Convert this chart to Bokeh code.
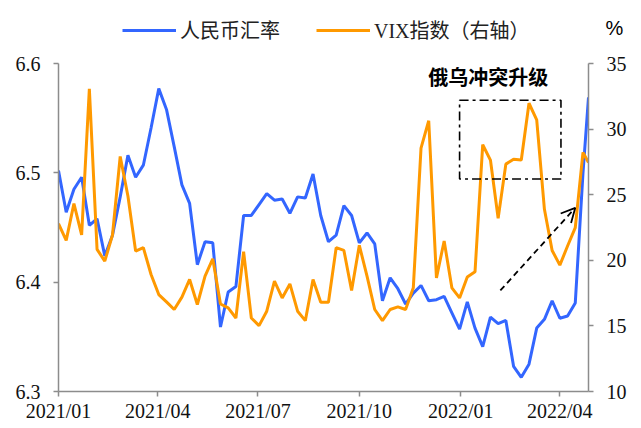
import pandas as pd
from bokeh.plotting import figure
from bokeh.layouts import column
from bokeh.models import (Range1d, LinearAxis, FixedTicker, Legend, LegendItem,
                          ColumnDataSource, BoxAnnotation, Arrow, OpenHead, Label)
from bokeh.embed import file_html
from bokeh.resources import INLINE

# ---- data ----
dates = list(pd.date_range("2021-01-01", periods=69, freq="7D")) + [pd.Timestamp("2022-04-27")]

cny = [6.502, 6.464, 6.485, 6.496, 6.452, 6.458, 6.424, 6.443, 6.478, 6.516,
       6.496, 6.507, 6.541, 6.577, 6.558, 6.524, 6.489, 6.472, 6.416, 6.437,
       6.436, 6.359, 6.391, 6.396, 6.461, 6.461, 6.471, 6.481, 6.475, 6.476,
       6.463, 6.478, 6.477, 6.499, 6.461, 6.437, 6.443, 6.470, 6.461, 6.436,
       6.445, 6.435, 6.383, 6.404, 6.394, 6.380, 6.390, 6.397, 6.383, 6.384,
       6.387, 6.372, 6.357, 6.382, 6.358, 6.341, 6.368, 6.362, 6.365, 6.323,
       6.313, 6.325, 6.358, 6.366, 6.383, 6.367, 6.369, 6.381, 6.500, 6.569]

vix = [22.79, 21.52, 24.32, 21.93, 33.07, 20.83, 19.94, 21.93, 27.91, 24.90,
       20.70, 20.96, 18.92, 17.39, 16.83, 16.25, 17.19, 18.54, 16.63, 18.79,
       20.11, 16.67, 16.37, 15.60, 20.65, 15.60, 15.02, 16.12, 18.41, 17.13,
       18.20, 16.12, 15.40, 18.54, 16.80, 16.80, 20.96, 20.75, 17.70, 21.14,
       18.79, 16.25, 15.40, 16.25, 16.45, 16.25, 17.90, 28.55, 30.64, 18.66,
       21.47, 17.90, 17.13, 18.72, 19.12, 28.81, 27.64, 23.20, 27.33, 27.71,
       27.64, 31.97, 30.70, 23.89, 20.75, 19.63, 21.09, 22.49, 28.22, 27.45]

series_names = ["人民币汇率", "VIX指数（右轴）"]
tick_dates = ["2021-01-01", "2021-04-01", "2021-07-01", "2021-10-01", "2022-01-01", "2022-04-01"]
tick_labels = ["2021/01", "2021/04", "2021/07", "2021/10", "2022/01", "2022/04"]
left_ticks = [6.3, 6.4, 6.5, 6.6]
right_ticks = [10, 15, 20, 25, 30, 35]
note_text = "俄乌冲突升级"
unit_text = "%"


def ms(s):
    return pd.Timestamp(s).value / 1e6


BLUE = "#3366FF"
ORANGE = "#FF9900"
AXIS = "#8C8C8C"
SERIF = "Liberation Serif"
CJK = "Noto Sans CJK SC"
W, TOP_H, MAIN_H = 641, 51, 377

src = ColumnDataSource(dict(x=[d.value / 1e6 for d in dates], cny=cny, vix=vix))

# ---------------- header strip: legend + unit ----------------
head = figure(width=W, height=TOP_H, output_backend="svg", toolbar_location=None,
              x_axis_location=None, y_axis_location=None,
              x_range=Range1d(0, W), y_range=Range1d(0, TOP_H),
              min_border_left=0, min_border_right=0, min_border_top=0, min_border_bottom=0)
head.outline_line_color = None
head.xgrid.visible = False
head.ygrid.visible = False
head.title.visible = False
# legend glyph renderers (their data lie outside this strip's ranges, so only the legend shows)
lg1 = head.line("x", "cny", source=src, line_color=BLUE, line_width=3)
lg2 = head.line("x", "vix", source=src, line_color=ORANGE, line_width=3)
legend = Legend(items=[LegendItem(label=series_names[0], renderers=[lg1]),
                       LegendItem(label=series_names[1], renderers=[lg2])],
                orientation="horizontal", location=(122, 7),
                padding=0, margin=0, spacing=36, glyph_width=54, glyph_height=20,
                label_standoff=4, label_height=20,
                label_text_font=f"{SERIF}, {CJK}", label_text_font_size="20px",
                label_text_color="#222222",
                border_line_alpha=0, background_fill_alpha=0)
head.add_layout(legend)
head.add_layout(Label(x=614, y=TOP_H - 27, text=unit_text, text_align="center",
                      text_baseline="middle", text_font="Liberation Sans",
                      text_font_size="20px", text_color="black"))

# ---------------- main chart ----------------
p = figure(width=W, height=MAIN_H, output_backend="svg", toolbar_location=None,
           x_axis_type="datetime",
           x_range=Range1d(ms("2021-01-01"), ms("2022-04-27")),
           y_range=Range1d(6.3, 6.6),
           min_border_left=58, min_border_right=53, min_border_top=12, min_border_bottom=37)
p.title.visible = False
p.extra_y_ranges = {"right": Range1d(10, 35)}
p.outline_line_color = None
p.xgrid.visible = False
p.ygrid.visible = False

for fig in (head, p):
    if "frame_align" in fig.properties():
        fig.frame_align = False

right_axis = LinearAxis(y_range_name="right")
p.add_layout(right_axis, "right")

for ax in [p.xaxis[0], p.yaxis[0], right_axis]:
    ax.axis_line_color = AXIS
    ax.axis_line_width = 1.5
    ax.major_tick_line_color = AXIS
    ax.major_tick_line_width = 1.5
    ax.major_tick_out = 5
    ax.major_tick_in = 0
    ax.minor_tick_line_color = None
    ax.major_label_text_font = SERIF
    ax.major_label_text_font_size = "20px"
    ax.major_label_text_color = "#111111"

p.yaxis[0].ticker = FixedTicker(ticks=left_ticks)
p.yaxis[0].major_label_standoff = 13
right_axis.ticker = FixedTicker(ticks=right_ticks)
right_axis.major_label_standoff = 13

xt = [ms(d) for d in tick_dates]
p.xaxis[0].ticker = FixedTicker(ticks=xt)
p.xaxis[0].major_label_overrides = {t: l for t, l in zip(xt, tick_labels)}
p.xaxis[0].major_label_standoff = 3

p.line("x", "cny", source=src, line_color=BLUE, line_width=3)
p.line("x", "vix", source=src, line_color=ORANGE, line_width=3, y_range_name="right")

box = BoxAnnotation(left=ms("2021-12-31"), right=ms("2022-04-02"), bottom=26.2, top=32.2,
                    y_range_name="right", fill_alpha=0, line_color="black", line_alpha=1.0,
                    line_width=1.6, line_dash="9 4 3 4")
p.add_layout(box)

arrow = Arrow(end=OpenHead(size=14, line_width=1.8, line_color="black"),
              x_start=ms("2022-02-06"), y_start=17.7, x_end=ms("2022-04-15"), y_end=24.0,
              y_range_name="right", line_dash="6 4", line_width=1.8, line_color="black")
p.add_layout(arrow)

note = Label(x=ms("2022-01-26"), y=34.0, y_range_name="right", text=note_text,
             text_align="center", text_baseline="middle", text_font=CJK,
             text_font_style="bold", text_font_size="20px", text_color="black")
p.add_layout(note)

layout = column(head, p, spacing=0)
open("out.html", "w").write(file_html(layout, INLINE))
